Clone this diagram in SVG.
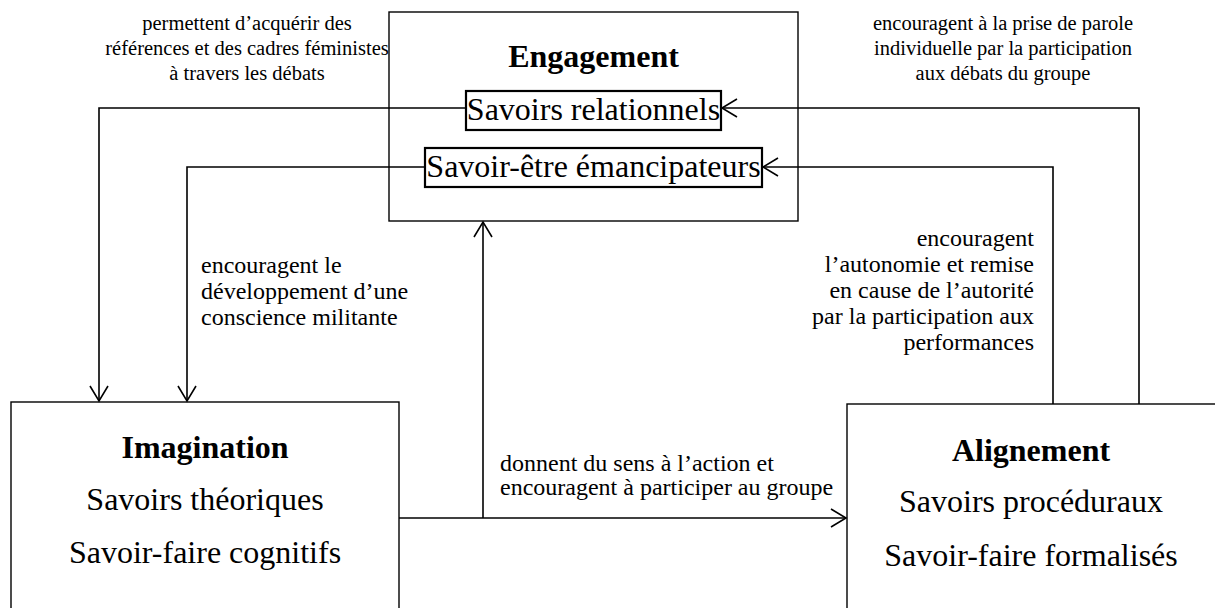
<svg xmlns="http://www.w3.org/2000/svg" width="1215" height="608" viewBox="0 0 1215 608">
<style>
.box{fill:#fff;stroke:#000;stroke-width:1.4}
.inner{fill:none;stroke:#000;stroke-width:2.2}
.t{font-family:"Liberation Serif","Times New Roman",serif;font-size:32px;fill:#000}
.b{font-weight:bold}
.lab{font-family:"Liberation Serif","Times New Roman",serif;font-size:24px;fill:#000}
.sm{font-size:20.5px}
.c{fill:none;stroke:#000;stroke-width:1.6}
</style>
<defs>
<marker id="arr" markerUnits="userSpaceOnUse" markerWidth="20" markerHeight="20" viewBox="0 0 20 20" refX="17" refY="10" orient="auto">
<path d="M2,1 L17,10 L2,19" fill="none" stroke="#000" stroke-width="1.6"/>
</marker>
</defs>
<g id="engagement">
<rect class="box" x="389" y="12" width="409" height="209"/>
<text class="t b" x="593.5" y="67" text-anchor="middle">Engagement</text>
<rect class="inner" x="466" y="91" width="255" height="39"/>
<text class="t" x="593.5" y="120" text-anchor="middle">Savoirs relationnels</text>
<rect class="inner" x="425" y="148" width="337" height="39"/>
<text class="t" x="593.5" y="177" text-anchor="middle">Savoir-être émancipateurs</text>
</g>
<g id="imagination">
<rect class="box" x="11" y="402" width="388" height="220"/>
<text class="t b" x="205" y="458" text-anchor="middle">Imagination</text>
<text class="t" x="205" y="510" text-anchor="middle">Savoirs théoriques</text>
<text class="t" x="205" y="563" text-anchor="middle">Savoir-faire cognitifs</text>
</g>
<g id="alignement">
<rect class="box" x="847" y="404" width="380" height="220"/>
<text class="t b" x="1031" y="461" text-anchor="middle">Alignement</text>
<text class="t" x="1031" y="512" text-anchor="middle">Savoirs procéduraux</text>
<text class="t" x="1031" y="566" text-anchor="middle">Savoir-faire formalisés</text>
</g>
<g id="connectors">
<polyline class="c" points="466,108 99,108 99,401" marker-end="url(#arr)"/>
<polyline class="c" points="425,167 187,167 187,401" marker-end="url(#arr)"/>
<polyline class="c" points="1139,404 1139,108 722,108" marker-end="url(#arr)"/>
<polyline class="c" points="1053,404 1053,167 763,167" marker-end="url(#arr)"/>
<polyline class="c" points="399,518 846,518" marker-end="url(#arr)"/>
<polyline class="c" points="483,518 483,222" marker-end="url(#arr)"/>
</g>
<g id="labels">
<text class="lab sm" text-anchor="middle"><tspan x="247" y="30">permettent d’acquérir des</tspan><tspan x="247" y="55">références et des cadres féministes</tspan><tspan x="247" y="80">à travers les débats</tspan></text>
<text class="lab sm" text-anchor="middle"><tspan x="1003" y="30">encouragent à la prise de parole</tspan><tspan x="1003" y="55">individuelle par la participation</tspan><tspan x="1003" y="80">aux débats du groupe</tspan></text>
<text class="lab"><tspan x="201" y="273">encouragent le</tspan><tspan x="201" y="299">développement d’une</tspan><tspan x="201" y="325">conscience militante</tspan></text>
<text class="lab" text-anchor="end"><tspan x="1034" y="246">encouragent</tspan><tspan x="1034" y="272">l’autonomie et remise</tspan><tspan x="1034" y="298">en cause de l’autorité</tspan><tspan x="1034" y="324">par la participation aux</tspan><tspan x="1034" y="350">performances</tspan></text>
<text class="lab"><tspan x="500" y="471">donnent du sens à l’action et</tspan><tspan x="500" y="495">encouragent à participer au groupe</tspan></text>
</g>
</svg>
